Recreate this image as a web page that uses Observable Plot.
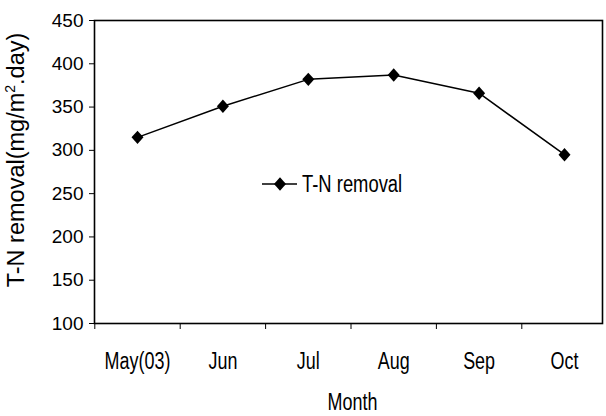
<!DOCTYPE html>
<html>
<head>
<meta charset="utf-8">
<script src="https://cdn.jsdelivr.net/npm/d3@7"></script>
<script src="https://cdn.jsdelivr.net/npm/@observablehq/plot@0.6"></script>
<style>
  html, body { margin: 0; padding: 0; background: white; }
  svg { display: block; }
</style>
</head>
<body>
<div id="chart"></div>
<script>
const months = ["May(03)", "Jun", "Jul", "Aug", "Sep", "Oct"];
const removal = [315, 351, 382, 387, 366, 295];
const yTicks = [100, 150, 200, 250, 300, 350, 400, 450];
const seriesName = "T-N removal";
const xTitle = "Month";
const yTitleMain = "T-N removal(mg/m";
const yTitleSup = "2";
const yTitleEnd = ".day)";

const data = months.map((m, i) => ({i, month: m, v: removal[i]}));
const centers = months.map((_, i) => i);
const boundaries = months.map((_, i) => i - 0.5).concat([months.length - 0.5]);

const diamond = {
  draw(ctx, size) {
    const r = Math.sqrt(size / Math.PI);
    ctx.moveTo(0, -r * 1.12);
    ctx.lineTo(r, 0);
    ctx.lineTo(0, r * 1.12);
    ctx.lineTo(-r, 0);
    ctx.closePath();
  }
};

const FONT = "'Liberation Sans', Arial, Helvetica, sans-serif";

const plot = Plot.plot({
  width: 606,
  height: 416,
  marginLeft: 94,
  marginRight: 4,
  marginTop: 20,
  marginBottom: 93,
  style: {fontFamily: FONT, background: "white", color: "black", overflow: "visible"},
  x: {domain: [-0.5, months.length - 0.5], range: [94.3, 606.7]},
  y: {domain: [100, 450]},
  marks: [
    Plot.axisY({ticks: yTicks, tickSize: 5, tickPadding: 6, fontSize: 19, label: null, strokeWidth: 1}),
    Plot.axisX({ticks: boundaries, tickSize: 6, tickFormat: () => "", label: null, strokeWidth: 1}),
    Plot.axisX({ticks: centers, tickSize: 0, tickPadding: 29, fontSize: 23, tickFormat: i => months[i], label: null}),
    Plot.frame({stroke: "black", strokeWidth: 1.6}),
    Plot.line(data, {x: "i", y: "v", stroke: "black", strokeWidth: 1.5}),
    Plot.dot(data, {x: "i", y: "v", symbol: diamond, r: 6, fill: "black", stroke: "none"})
  ]
});

document.getElementById("chart").appendChild(plot);

function squeeze(el, factor) {
  const len = el.getComputedTextLength();
  if (len > 0) {
    el.setAttribute("textLength", (len * factor).toFixed(1));
    el.setAttribute("lengthAdjust", "spacingAndGlyphs");
  }
}

const svg = d3.select(plot);

// condense x tick labels like the original
svg.selectAll("g[aria-label='x-axis tick label'] text").each(function() {
  if (this.textContent.trim() !== "") squeeze(this, 0.78);
});

// x title
const xt = svg.append("text")
  .attr("x", 352.5).attr("y", 410)
  .attr("text-anchor", "middle")
  .attr("font-family", FONT).attr("font-size", 23)
  .attr("fill", "black")
  .text(xTitle);
squeeze(xt.node(), 0.78);

// y title
const yt = svg.append("text")
  .attr("transform", "translate(24,160) rotate(-90)")
  .attr("text-anchor", "middle")
  .attr("font-family", FONT).attr("font-size", 23.5)
  .attr("fill", "black");
yt.append("tspan").text(yTitleMain);
yt.append("tspan").attr("font-size", 14).attr("dy", -9).text(yTitleSup);
yt.append("tspan").attr("dy", 9).text(yTitleEnd);

// legend
const lg = svg.append("g").attr("aria-label", "legend");
lg.append("line").attr("x1", 262).attr("x2", 297).attr("y1", 184).attr("y2", 184)
  .attr("stroke", "black").attr("stroke-width", 1.5);
lg.append("path").attr("transform", "translate(280,184)")
  .attr("d", "M0,-6.7L6,0L0,6.7L-6,0Z").attr("fill", "black");
const lt = lg.append("text").attr("x", 302).attr("y", 192)
  .attr("text-anchor", "start")
  .attr("font-family", FONT).attr("font-size", 23).attr("fill", "black")
  .text(seriesName);
squeeze(lt.node(), 0.8);
</script>
</body>
</html>
